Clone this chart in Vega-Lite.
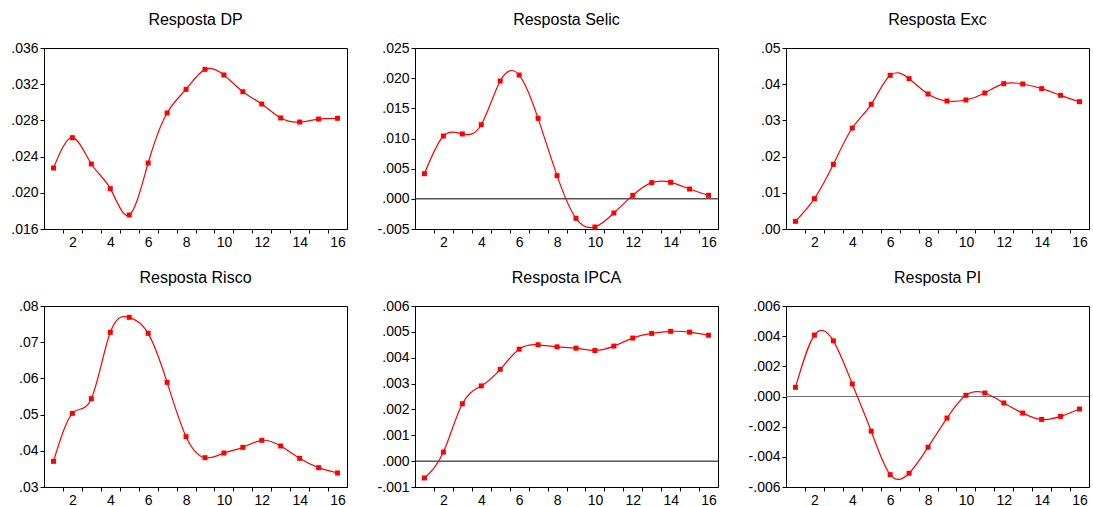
{
  "$schema": "https://vega.github.io/schema/vega-lite/v6.json",
  "padding": {"left": 10, "top": 11, "right": 2, "bottom": 5},
  "background": "white",
  "datasets": {
    "irf": [
      {"var": "DP", "h": 1, "v": 0.02274}, {"var": "DP", "h": 2, "v": 0.02609}, {"var": "DP", "h": 3, "v": 0.02318}, {"var": "DP", "h": 4, "v": 0.02046},
      {"var": "DP", "h": 5, "v": 0.01755}, {"var": "DP", "h": 6, "v": 0.02329}, {"var": "DP", "h": 7, "v": 0.02882}, {"var": "DP", "h": 8, "v": 0.03143},
      {"var": "DP", "h": 9, "v": 0.03364}, {"var": "DP", "h": 10, "v": 0.03302}, {"var": "DP", "h": 11, "v": 0.03117}, {"var": "DP", "h": 12, "v": 0.02981},
      {"var": "DP", "h": 13, "v": 0.02827}, {"var": "DP", "h": 14, "v": 0.02782}, {"var": "DP", "h": 15, "v": 0.02815}, {"var": "DP", "h": 16, "v": 0.02823},
      {"var": "Selic", "h": 1, "v": 0.00417}, {"var": "Selic", "h": 2, "v": 0.01041}, {"var": "Selic", "h": 3, "v": 0.01075}, {"var": "Selic", "h": 4, "v": 0.01229},
      {"var": "Selic", "h": 5, "v": 0.01953}, {"var": "Selic", "h": 6, "v": 0.02052}, {"var": "Selic", "h": 7, "v": 0.01334}, {"var": "Selic", "h": 8, "v": 0.00384},
      {"var": "Selic", "h": 9, "v": -0.00323}, {"var": "Selic", "h": 10, "v": -0.00467}, {"var": "Selic", "h": 11, "v": -0.00235}, {"var": "Selic", "h": 12, "v": 0.00058},
      {"var": "Selic", "h": 13, "v": 0.00268}, {"var": "Selic", "h": 14, "v": 0.00273}, {"var": "Selic", "h": 15, "v": 0.00163}, {"var": "Selic", "h": 16, "v": 0.00058},
      {"var": "Exc", "h": 1, "v": 0.00212}, {"var": "Exc", "h": 2, "v": 0.00838}, {"var": "Exc", "h": 3, "v": 0.01786}, {"var": "Exc", "h": 4, "v": 0.0279},
      {"var": "Exc", "h": 5, "v": 0.03444}, {"var": "Exc", "h": 6, "v": 0.04245}, {"var": "Exc", "h": 7, "v": 0.04153}, {"var": "Exc", "h": 8, "v": 0.03729},
      {"var": "Exc", "h": 9, "v": 0.03536}, {"var": "Exc", "h": 10, "v": 0.03564}, {"var": "Exc", "h": 11, "v": 0.03757}, {"var": "Exc", "h": 12, "v": 0.04015},
      {"var": "Exc", "h": 13, "v": 0.04006}, {"var": "Exc", "h": 14, "v": 0.03877}, {"var": "Exc", "h": 15, "v": 0.03692}, {"var": "Exc", "h": 16, "v": 0.03517},
      {"var": "Risco", "h": 1, "v": 0.03709}, {"var": "Risco", "h": 2, "v": 0.05035}, {"var": "Risco", "h": 3, "v": 0.0544}, {"var": "Risco", "h": 4, "v": 0.07273},
      {"var": "Risco", "h": 5, "v": 0.07687}, {"var": "Risco", "h": 6, "v": 0.07245}, {"var": "Risco", "h": 7, "v": 0.05891}, {"var": "Risco", "h": 8, "v": 0.0439},
      {"var": "Risco", "h": 9, "v": 0.0381}, {"var": "Risco", "h": 10, "v": 0.03939}, {"var": "Risco", "h": 11, "v": 0.04096}, {"var": "Risco", "h": 12, "v": 0.04289},
      {"var": "Risco", "h": 13, "v": 0.04133}, {"var": "Risco", "h": 14, "v": 0.03792}, {"var": "Risco", "h": 15, "v": 0.03534}, {"var": "Risco", "h": 16, "v": 0.03387},
      {"var": "IPCA", "h": 1, "v": -0.00065}, {"var": "IPCA", "h": 2, "v": 0.00035}, {"var": "IPCA", "h": 3, "v": 0.00222}, {"var": "IPCA", "h": 4, "v": 0.00291},
      {"var": "IPCA", "h": 5, "v": 0.00355}, {"var": "IPCA", "h": 6, "v": 0.00433}, {"var": "IPCA", "h": 7, "v": 0.0045}, {"var": "IPCA", "h": 8, "v": 0.00442},
      {"var": "IPCA", "h": 9, "v": 0.00437}, {"var": "IPCA", "h": 10, "v": 0.00428}, {"var": "IPCA", "h": 11, "v": 0.00445}, {"var": "IPCA", "h": 12, "v": 0.00476},
      {"var": "IPCA", "h": 13, "v": 0.00494}, {"var": "IPCA", "h": 14, "v": 0.00502}, {"var": "IPCA", "h": 15, "v": 0.00499}, {"var": "IPCA", "h": 16, "v": 0.00487},
      {"var": "PI", "h": 1, "v": 0.00061}, {"var": "PI", "h": 2, "v": 0.00407}, {"var": "PI", "h": 3, "v": 0.00369}, {"var": "PI", "h": 4, "v": 0.00083},
      {"var": "PI", "h": 5, "v": -0.0023}, {"var": "PI", "h": 6, "v": -0.00518}, {"var": "PI", "h": 7, "v": -0.00509}, {"var": "PI", "h": 8, "v": -0.00336},
      {"var": "PI", "h": 9, "v": -0.00143}, {"var": "PI", "h": 10, "v": 0.00008}, {"var": "PI", "h": 11, "v": 0.00023}, {"var": "PI", "h": 12, "v": -0.00043},
      {"var": "PI", "h": 13, "v": -0.0011}, {"var": "PI", "h": 14, "v": -0.00152}, {"var": "PI", "h": 15, "v": -0.00132}, {"var": "PI", "h": 16, "v": -0.00083}
    ]
  },
  "config": {
    "font": "Liberation Sans",
    "view": {"stroke": "black", "strokeWidth": 1},
    "axis": {"domainColor": "black", "domainWidth": 1, "tickColor": "black", "tickWidth": 1, "tickSize": 4, "tickCount": 60, "labelColor": "black", "labelFont": "Liberation Sans", "labelFontSize": 14, "labelPadding": 2, "grid": false, "title": null, "labelOverlap": false, "labelFlush": false, "labelBound": false},
    "title": {"font": "Liberation Sans", "fontSize": 16, "fontWeight": "normal", "color": "black", "anchor": "middle", "frame": "group", "baseline": "alphabetic", "offset": 13},
    "line": {"color": "#FF0000", "strokeWidth": 1.2, "interpolate": "natural"},
    "point": {"shape": "square", "filled": true, "color": "#FF0000", "size": 25, "opacity": 1},
    "rule": {"strokeWidth": 1}
  },
  "columns": 3,
  "bounds": "flush",
  "spacing": {"row": 77, "column": 68},
  "concat": [
    {
      "title": "Resposta DP", "width": 303, "height": 181, "data": {"name": "irf"},
      "layer": [
        {"transform": [{"filter": "datum.var === 'DP'"}], "mark": "line",
         "encoding": {
           "x": {"field": "h", "type": "quantitative", "scale": {"domain": [0.5, 16.5], "nice": false, "zero": false},
                 "axis": {"tickCount": 60, "values": [1.5, 2, 2.5, 3.5, 4, 4.5, 5.5, 6, 6.5, 7.5, 8, 8.5, 9.5, 10, 10.5, 11.5, 12, 12.5, 13.5, 14, 14.5, 15.5, 16], "labelExpr": "datum.value % 2 === 0 ? datum.value : ''", "tickOpacity": {"condition": {"test": "datum.value % 1 === 0", "value": 0}, "value": 1}}},
           "y": {"field": "v", "type": "quantitative", "scale": {"domain": [0.016, 0.036], "nice": false, "zero": false},
                 "axis": {"tickCount": 60, "values": [0.016, 0.02, 0.024, 0.028, 0.032, 0.036], "labelExpr": "replace(replace(format(datum.value, '.3f'), '0.', '.'), '\u2212', '-')"}}
         }},
        {"transform": [{"filter": "datum.var === 'DP'"}], "mark": "point",
         "encoding": {"x": {"field": "h", "type": "quantitative"}, "y": {"field": "v", "type": "quantitative"}}}
      ]
    },
    {
      "title": "Resposta Selic", "width": 303, "height": 181, "data": {"name": "irf"},
      "layer": [
        {"data": {"values": [{"v": 0}]}, "mark": {"type": "rule", "color": "black"},
         "encoding": {"y": {"field": "v", "type": "quantitative"}}},
        {"transform": [{"filter": "datum.var === 'Selic'"}], "mark": "line",
         "encoding": {
           "x": {"field": "h", "type": "quantitative", "scale": {"domain": [0.5, 16.5], "nice": false, "zero": false},
                 "axis": {"tickCount": 60, "values": [1.5, 2, 2.5, 3.5, 4, 4.5, 5.5, 6, 6.5, 7.5, 8, 8.5, 9.5, 10, 10.5, 11.5, 12, 12.5, 13.5, 14, 14.5, 15.5, 16], "labelExpr": "datum.value % 2 === 0 ? datum.value : ''", "tickOpacity": {"condition": {"test": "datum.value % 1 === 0", "value": 0}, "value": 1}}},
           "y": {"field": "v", "type": "quantitative", "scale": {"domain": [-0.005, 0.025], "nice": false, "zero": false},
                 "axis": {"tickCount": 60, "values": [-0.005, 0, 0.005, 0.01, 0.015, 0.02, 0.025], "labelExpr": "replace(replace(format(datum.value, '.3f'), '0.', '.'), '\u2212', '-')"}}
         }},
        {"transform": [{"filter": "datum.var === 'Selic'"}], "mark": "point",
         "encoding": {"x": {"field": "h", "type": "quantitative"}, "y": {"field": "v", "type": "quantitative"}}}
      ]
    },
    {
      "title": "Resposta Exc", "width": 303, "height": 181, "data": {"name": "irf"},
      "layer": [
        {"transform": [{"filter": "datum.var === 'Exc'"}], "mark": "line",
         "encoding": {
           "x": {"field": "h", "type": "quantitative", "scale": {"domain": [0.5, 16.5], "nice": false, "zero": false},
                 "axis": {"tickCount": 60, "values": [1.5, 2, 2.5, 3.5, 4, 4.5, 5.5, 6, 6.5, 7.5, 8, 8.5, 9.5, 10, 10.5, 11.5, 12, 12.5, 13.5, 14, 14.5, 15.5, 16], "labelExpr": "datum.value % 2 === 0 ? datum.value : ''", "tickOpacity": {"condition": {"test": "datum.value % 1 === 0", "value": 0}, "value": 1}}},
           "y": {"field": "v", "type": "quantitative", "scale": {"domain": [0, 0.05], "nice": false, "zero": false},
                 "axis": {"tickCount": 60, "values": [0, 0.01, 0.02, 0.03, 0.04, 0.05], "labelExpr": "replace(replace(format(datum.value, '.2f'), '0.', '.'), '\u2212', '-')"}}
         }},
        {"transform": [{"filter": "datum.var === 'Exc'"}], "mark": "point",
         "encoding": {"x": {"field": "h", "type": "quantitative"}, "y": {"field": "v", "type": "quantitative"}}}
      ]
    },
    {
      "title": "Resposta Risco", "width": 303, "height": 181, "data": {"name": "irf"},
      "layer": [
        {"transform": [{"filter": "datum.var === 'Risco'"}], "mark": "line",
         "encoding": {
           "x": {"field": "h", "type": "quantitative", "scale": {"domain": [0.5, 16.5], "nice": false, "zero": false},
                 "axis": {"tickCount": 60, "values": [1.5, 2, 2.5, 3.5, 4, 4.5, 5.5, 6, 6.5, 7.5, 8, 8.5, 9.5, 10, 10.5, 11.5, 12, 12.5, 13.5, 14, 14.5, 15.5, 16], "labelExpr": "datum.value % 2 === 0 ? datum.value : ''", "tickOpacity": {"condition": {"test": "datum.value % 1 === 0", "value": 0}, "value": 1}}},
           "y": {"field": "v", "type": "quantitative", "scale": {"domain": [0.03, 0.08], "nice": false, "zero": false},
                 "axis": {"tickCount": 60, "values": [0.03, 0.04, 0.05, 0.06, 0.07, 0.08], "labelExpr": "replace(replace(format(datum.value, '.2f'), '0.', '.'), '\u2212', '-')"}}
         }},
        {"transform": [{"filter": "datum.var === 'Risco'"}], "mark": "point",
         "encoding": {"x": {"field": "h", "type": "quantitative"}, "y": {"field": "v", "type": "quantitative"}}}
      ]
    },
    {
      "title": "Resposta IPCA", "width": 303, "height": 181, "data": {"name": "irf"},
      "layer": [
        {"data": {"values": [{"v": 0}]}, "mark": {"type": "rule", "color": "black"},
         "encoding": {"y": {"field": "v", "type": "quantitative"}}},
        {"transform": [{"filter": "datum.var === 'IPCA'"}], "mark": "line",
         "encoding": {
           "x": {"field": "h", "type": "quantitative", "scale": {"domain": [0.5, 16.5], "nice": false, "zero": false},
                 "axis": {"tickCount": 60, "values": [1.5, 2, 2.5, 3.5, 4, 4.5, 5.5, 6, 6.5, 7.5, 8, 8.5, 9.5, 10, 10.5, 11.5, 12, 12.5, 13.5, 14, 14.5, 15.5, 16], "labelExpr": "datum.value % 2 === 0 ? datum.value : ''", "tickOpacity": {"condition": {"test": "datum.value % 1 === 0", "value": 0}, "value": 1}}},
           "y": {"field": "v", "type": "quantitative", "scale": {"domain": [-0.001, 0.006], "nice": false, "zero": false},
                 "axis": {"tickCount": 60, "values": [-0.001, 0, 0.001, 0.002, 0.003, 0.004, 0.005, 0.006], "labelExpr": "replace(replace(format(datum.value, '.3f'), '0.', '.'), '\u2212', '-')"}}
         }},
        {"transform": [{"filter": "datum.var === 'IPCA'"}], "mark": "point",
         "encoding": {"x": {"field": "h", "type": "quantitative"}, "y": {"field": "v", "type": "quantitative"}}}
      ]
    },
    {
      "title": "Resposta PI", "width": 303, "height": 181, "data": {"name": "irf"},
      "layer": [
        {"data": {"values": [{"v": 0}]}, "mark": {"type": "rule", "color": "#707070"},
         "encoding": {"y": {"field": "v", "type": "quantitative"}}},
        {"transform": [{"filter": "datum.var === 'PI'"}], "mark": "line",
         "encoding": {
           "x": {"field": "h", "type": "quantitative", "scale": {"domain": [0.5, 16.5], "nice": false, "zero": false},
                 "axis": {"tickCount": 60, "values": [1.5, 2, 2.5, 3.5, 4, 4.5, 5.5, 6, 6.5, 7.5, 8, 8.5, 9.5, 10, 10.5, 11.5, 12, 12.5, 13.5, 14, 14.5, 15.5, 16], "labelExpr": "datum.value % 2 === 0 ? datum.value : ''", "tickOpacity": {"condition": {"test": "datum.value % 1 === 0", "value": 0}, "value": 1}}},
           "y": {"field": "v", "type": "quantitative", "scale": {"domain": [-0.006, 0.006], "nice": false, "zero": false},
                 "axis": {"tickCount": 60, "values": [-0.006, -0.004, -0.002, 0, 0.002, 0.004, 0.006], "labelExpr": "replace(replace(format(datum.value, '.3f'), '0.', '.'), '\u2212', '-')"}}
         }},
        {"transform": [{"filter": "datum.var === 'PI'"}], "mark": "point",
         "encoding": {"x": {"field": "h", "type": "quantitative"}, "y": {"field": "v", "type": "quantitative"}}}
      ]
    }
  ]
}
